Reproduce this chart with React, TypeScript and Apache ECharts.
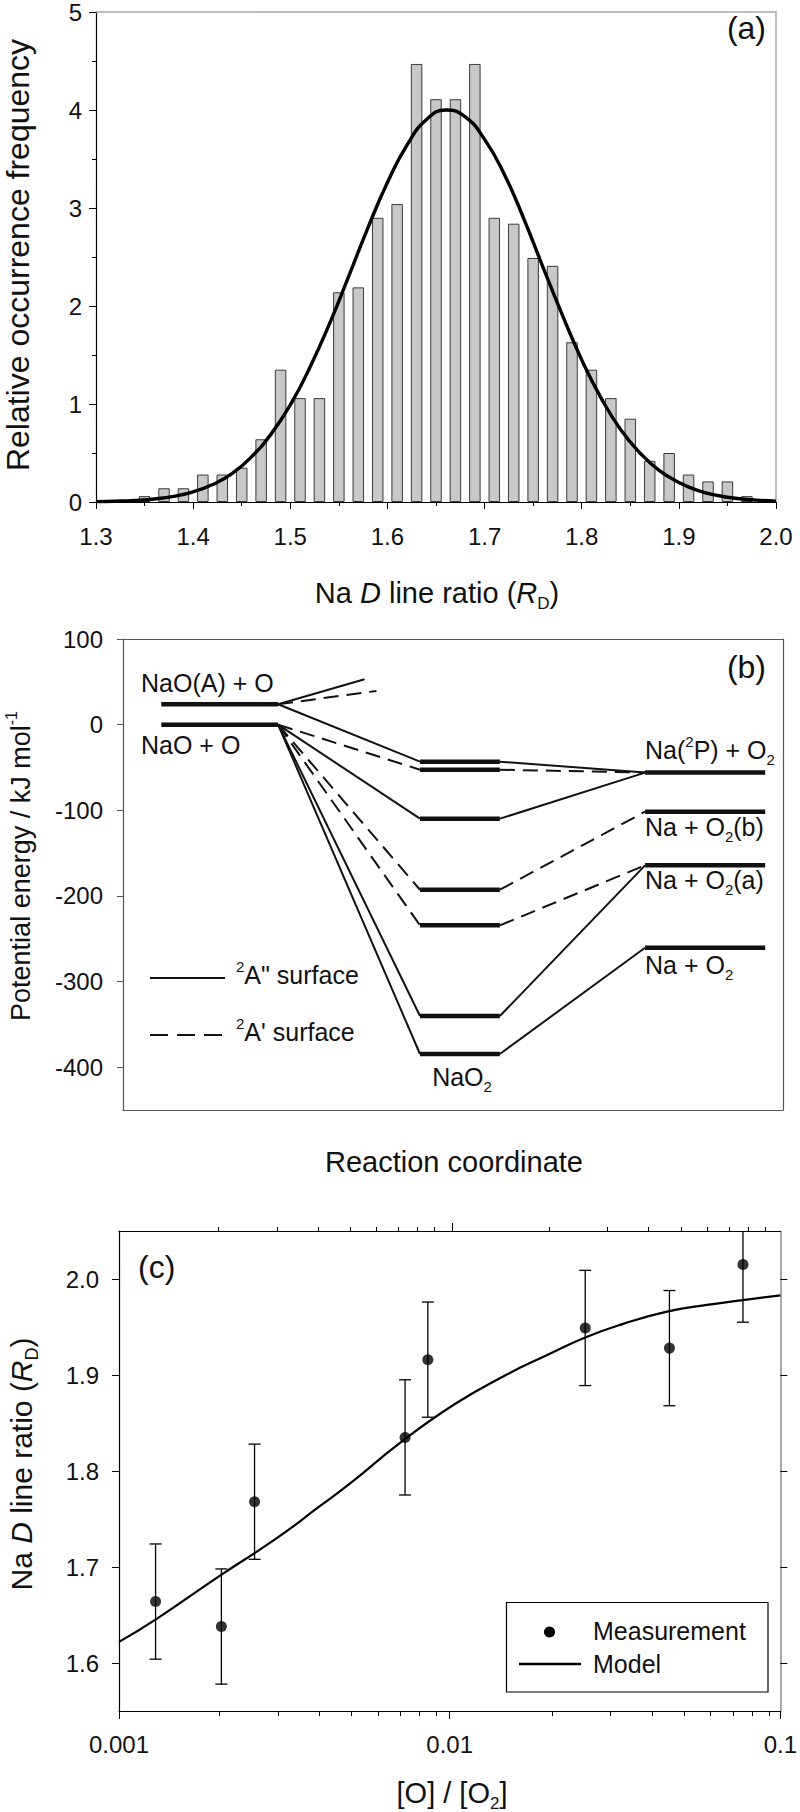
import { useEffect, useRef } from 'react';
import * as echarts from 'echarts';

// ---------- (a) histogram of the Na D line ratio ----------
const binCenters = [
  1.35, 1.37, 1.39, 1.41, 1.43, 1.45, 1.47, 1.49, 1.51, 1.53, 1.55, 1.57, 1.59, 1.61, 1.63, 1.65,
  1.67, 1.69, 1.71, 1.73, 1.75, 1.77, 1.79, 1.81, 1.83, 1.85, 1.87, 1.89, 1.91, 1.93, 1.95, 1.97,
];
const binFreq = [
  0.06, 0.14, 0.14, 0.28, 0.28, 0.35, 0.64, 1.35, 1.06, 1.06, 2.14, 2.19, 2.9, 3.04, 4.47, 4.11,
  4.11, 4.47, 2.9, 2.84, 2.49, 2.41, 1.63, 1.35, 1.06, 0.85, 0.42, 0.5, 0.28, 0.21, 0.21, 0.06,
];
// fitted normal curve
const fitX = [
  1.3, 1.32, 1.34, 1.36, 1.38, 1.4, 1.42, 1.44, 1.46, 1.48, 1.5, 1.52, 1.54, 1.56, 1.58, 1.6, 1.62, 1.64,
  1.66, 1.68, 1.7, 1.72, 1.74, 1.76, 1.78, 1.8, 1.82, 1.84, 1.86, 1.88, 1.9, 1.92, 1.94, 1.96, 1.98, 2.0,
];
const fitY = [
  0.004, 0.008, 0.016, 0.031, 0.058, 0.104, 0.178, 0.29, 0.46, 0.69, 0.99, 1.37, 1.81, 2.3, 2.8, 3.26, 3.64, 3.9,
  4.0, 3.93, 3.7, 3.35, 2.9, 2.4, 1.91, 1.45, 1.06, 0.74, 0.5, 0.32, 0.2, 0.116, 0.066, 0.036, 0.019, 0.009,
];

// ---------- (b) potential energy diagram (kJ/mol) ----------
// reaction coordinate spans of the three stages (0..100 scale)
const reactantSpan = [5.8, 23.5];
const complexSpan = [45, 57.1];
const productSpan = [79.1, 97.3];
const reactantLevels = [23.8, 0]; // NaO(A) + O, NaO + O
const complexLevels = [-43.2, -52.6, -109.8, -192.8, -234.4, -340.3, -384.6];
const productLevels = [-56, -101.6, -164.3, -260.5]; // Na(2P)+O2, Na+O2(b), Na+O2(a), Na+O2
// [reactant level, complex level, product level, dashed?]
const pathways: [number, number, number, boolean][] = [
  [23.8, -43.2, -56, false],
  [0, -52.6, -56, true],
  [0, -109.8, -56, false],
  [0, -192.8, -101.6, true],
  [0, -234.4, -164.3, true],
  [0, -340.3, -164.3, false],
  [0, -384.6, -260.5, false],
];
// short branches leaving NaO(A) + O: [end coordinate, end energy, dashed?]
const branches: [number, number, boolean][] = [
  [36.6, 53, false],
  [38.4, 39.4, true],
];
const energyTicks = [100, 0, -100, -200, -300, -400];

// ---------- (c) R_D versus [O]/[O2] ----------
const ratioO = [0.00129, 0.00204, 0.00257, 0.00733, 0.00859, 0.0257, 0.0462, 0.0771];
const measuredRD = [1.664, 1.638, 1.768, 1.835, 1.916, 1.949, 1.928, 2.015];
const errRD = [0.06, 0.06, 0.06, 0.06, 0.06, 0.06, 0.06, 0.06];
const modelX = [
  0.001, 0.0013, 0.002, 0.003, 0.004, 0.005, 0.007, 0.0104, 0.0148, 0.0195, 0.0257, 0.0333, 0.0454, 0.06, 0.077, 0.1,
];
const modelY = [
  1.622, 1.646, 1.69, 1.73, 1.762, 1.787, 1.828, 1.87, 1.9, 1.92, 1.939, 1.953, 1.966, 1.973, 1.978, 1.983,
];
const rdTicks = [1.6, 1.7, 1.8, 1.9, 2.0];
const decadeTicks = [0.001, 0.01, 0.1];
const minorLogTicks = [
  0.002, 0.003, 0.004, 0.005, 0.006, 0.007, 0.008, 0.009,
  0.02, 0.03, 0.04, 0.05, 0.06, 0.07, 0.08, 0.09,
];

const FONT = '"Liberation Sans", Arial, Helvetica, sans-serif';
const INK = '#111';
const AXIS = '#000';
const PALE = '#a8a8a8';
const BOX = '#555';

const makeRich = (size: number) => {
  const small = Math.round(size * 0.6);
  return {
    i: { fontStyle: 'italic', fontSize: size, fontFamily: FONT, fill: INK, lineHeight: Math.round(size * 1.3) },
    sup: { fontSize: small, fontFamily: FONT, fill: INK, lineHeight: small, verticalAlign: 'top' },
    sub: { fontSize: small, fontFamily: FONT, fill: INK, lineHeight: small, verticalAlign: 'bottom' },
  };
};

const label = (
  x: number,
  y: number,
  text: string,
  size: number,
  align: 'left' | 'center' | 'right' = 'left',
  rotation = 0,
) => ({
  type: 'text',
  x,
  y,
  rotation,
  silent: true,
  z: 10,
  style: {
    text,
    fontSize: size,
    fontFamily: FONT,
    fill: INK,
    align,
    verticalAlign: 'middle',
    lineHeight: Math.round(size * 1.3),
    rich: makeRich(size),
  },
});

const tickLabel = { fontSize: 24, fontFamily: FONT, color: INK };
const plainLine = (color: string, width = 1.2) => ({ show: true, onZero: false, lineStyle: { color, width } });

const App = () => {
  const chartRef = useRef<HTMLDivElement>(null);

  useEffect(() => {
    if (!chartRef.current) return;
    const chart = echarts.init(chartRef.current, undefined, { renderer: 'svg' });

    const energySeries: any[] = [];
    const energyLine = (pts: number[][], dashed: boolean, width: number) =>
      energySeries.push({
        type: 'line',
        xAxisIndex: 2,
        yAxisIndex: 2,
        data: pts,
        symbol: 'none',
        silent: true,
        lineStyle: { color: INK, width, type: dashed ? [15, 8] : 'solid', cap: 'butt' },
      });

    reactantLevels.forEach((e) => energyLine([[reactantSpan[0], e], [reactantSpan[1], e]], false, 4.5));
    complexLevels.forEach((e) => energyLine([[complexSpan[0], e], [complexSpan[1], e]], false, 4.5));
    productLevels.forEach((e) => energyLine([[productSpan[0], e], [productSpan[1], e]], false, 4.5));
    pathways.forEach(([r, c, p, dashed]) => {
      energyLine([[reactantSpan[1], r], [complexSpan[0], c]], dashed, 2);
      energyLine([[complexSpan[1], c], [productSpan[0], p]], dashed, 2);
    });
    branches.forEach(([u, e, dashed]) =>
      energyLine([[reactantSpan[1], reactantLevels[0]], [u, e]], dashed, 2),
    );

    const option: any = {
      animation: false,
      grid: [
        { left: 96, top: 11.5, width: 680, height: 490.5 },
        { left: 123, top: 639, width: 660, height: 471 },
        { left: 119, top: 1231, width: 665.5, height: 480 },
        { left: 119, top: 1231, width: 665.5, height: 480 },
      ],
      xAxis: [
        {
          gridIndex: 0,
          type: 'value',
          min: 1.3,
          max: 2.0,
          interval: 0.1,
          position: 'bottom',
          axisLine: plainLine(AXIS),
          axisTick: { length: 7, lineStyle: { color: AXIS } },
          minorTick: { show: true, splitNumber: 2, length: 4, lineStyle: { color: AXIS } },
          axisLabel: { ...tickLabel, margin: 22, formatter: (v: number) => v.toFixed(1) },
          splitLine: { show: false },
        },
        {
          gridIndex: 0,
          type: 'value',
          min: 1.3,
          max: 2.0,
          position: 'top',
          axisLine: plainLine(PALE, 1.5),
          axisTick: { show: false },
          axisLabel: { show: false },
          splitLine: { show: false },
        },
        {
          gridIndex: 1,
          type: 'value',
          min: 0,
          max: 100,
          position: 'bottom',
          axisLine: plainLine(BOX),
          axisTick: { show: false },
          axisLabel: { show: false },
          splitLine: { show: false },
        },
        {
          gridIndex: 1,
          type: 'value',
          min: 0,
          max: 100,
          position: 'top',
          axisLine: plainLine(BOX),
          axisTick: { show: false },
          axisLabel: { show: false },
          splitLine: { show: false },
        },
        {
          gridIndex: 2,
          type: 'log',
          logBase: 10,
          min: 0.001,
          max: 0.1,
          position: 'bottom',
          axisLine: plainLine(AXIS),
          axisTick: { length: 8, customValues: decadeTicks, lineStyle: { color: AXIS } },
          axisLabel: {
            ...tickLabel,
            margin: 21,
            customValues: decadeTicks,
            formatter: (v: number) => String(+v.toPrecision(3)),
          },
          splitLine: { show: false },
        },
        {
          gridIndex: 2,
          type: 'log',
          logBase: 10,
          min: 0.001,
          max: 0.1,
          position: 'top',
          axisLine: plainLine(AXIS),
          axisTick: { length: 4, customValues: minorLogTicks, lineStyle: { color: AXIS } },
          axisLabel: { show: false },
          splitLine: { show: false },
        },
        {
          gridIndex: 3,
          type: 'log',
          logBase: 10,
          min: 0.001,
          max: 0.1,
          position: 'bottom',
          axisLine: { show: false },
          axisTick: { length: 5, customValues: minorLogTicks, lineStyle: { color: AXIS } },
          axisLabel: { show: false },
          splitLine: { show: false },
        },
        {
          gridIndex: 3,
          type: 'log',
          logBase: 10,
          min: 0.001,
          max: 0.1,
          position: 'top',
          axisLine: { show: false },
          axisTick: { length: 8, customValues: [0.01], lineStyle: { color: AXIS } },
          axisLabel: { show: false },
          splitLine: { show: false },
        },
      ],
      yAxis: [
        {
          gridIndex: 0,
          type: 'value',
          min: 0,
          max: 5,
          interval: 1,
          position: 'left',
          axisLine: plainLine(AXIS),
          axisTick: { show: true, length: 7, lineStyle: { color: AXIS } },
          minorTick: { show: true, splitNumber: 2, length: 4, lineStyle: { color: AXIS } },
          axisLabel: { ...tickLabel, margin: 14 },
          splitLine: { show: false },
        },
        {
          gridIndex: 0,
          type: 'value',
          min: 0,
          max: 5,
          position: 'right',
          axisLine: plainLine(PALE, 1.5),
          axisTick: { show: false },
          axisLabel: { show: false },
          splitLine: { show: false },
        },
        {
          gridIndex: 1,
          type: 'value',
          min: -450,
          max: 100,
          position: 'left',
          axisLine: plainLine(BOX),
          axisTick: { show: true, length: 6, customValues: energyTicks, lineStyle: { color: BOX } },
          axisLabel: { ...tickLabel, margin: 20, customValues: energyTicks },
          splitLine: { show: false },
        },
        {
          gridIndex: 1,
          type: 'value',
          min: -450,
          max: 100,
          position: 'right',
          axisLine: plainLine(BOX),
          axisTick: { show: false },
          axisLabel: { show: false },
          splitLine: { show: false },
        },
        {
          gridIndex: 2,
          type: 'value',
          min: 1.55,
          max: 2.05,
          position: 'left',
          axisLine: plainLine(AXIS),
          axisTick: { show: true, length: 7, customValues: rdTicks, lineStyle: { color: AXIS } },
          axisLabel: {
            ...tickLabel,
            margin: 20,
            customValues: rdTicks,
            formatter: (v: number) => v.toFixed(1),
          },
          splitLine: { show: false },
        },
        {
          gridIndex: 2,
          type: 'value',
          min: 1.55,
          max: 2.05,
          position: 'right',
          axisLine: plainLine('#8c8c8c', 1.5),
          axisTick: { show: true, length: 7, customValues: rdTicks, lineStyle: { color: AXIS } },
          axisLabel: { show: false },
          splitLine: { show: false },
        },
        {
          gridIndex: 3,
          type: 'value',
          min: 1.55,
          max: 2.05,
          show: false,
        },
      ],
      series: [
        {
          type: 'bar',
          xAxisIndex: 0,
          yAxisIndex: 0,
          data: binCenters.map((x, i) => [x, binFreq[i]]),
          barWidth: 11.5,
          silent: true,
          itemStyle: { color: '#c8c8c8', borderColor: '#3a3a3a', borderWidth: 1 },
        },
        {
          type: 'line',
          xAxisIndex: 0,
          yAxisIndex: 0,
          data: fitX.map((x, i) => [x, fitY[i]]),
          smooth: true,
          symbol: 'none',
          silent: true,
          z: 5,
          lineStyle: { color: '#000', width: 3.4 },
        },
        ...energySeries,
        {
          type: 'line',
          xAxisIndex: 4,
          yAxisIndex: 4,
          data: modelX.map((x, i) => [x, modelY[i]]),
          smooth: true,
          symbol: 'none',
          silent: true,
          lineStyle: { color: '#000', width: 2.2 },
        },
        {
          type: 'custom',
          xAxisIndex: 4,
          yAxisIndex: 4,
          clip: true,
          silent: true,
          data: ratioO.map((x, i) => [x, measuredRD[i] - errRD[i], measuredRD[i] + errRD[i]]),
          renderItem: (_params: any, api: any) => {
            const lo = api.coord([api.value(0), api.value(1)]);
            const hi = api.coord([api.value(0), api.value(2)]);
            const cap = 6;
            const st = { stroke: '#000', lineWidth: 1.3 };
            return {
              type: 'group',
              children: [
                { type: 'line', shape: { x1: lo[0], y1: lo[1], x2: hi[0], y2: hi[1] }, style: st },
                { type: 'line', shape: { x1: lo[0] - cap, y1: lo[1], x2: lo[0] + cap, y2: lo[1] }, style: st },
                { type: 'line', shape: { x1: hi[0] - cap, y1: hi[1], x2: hi[0] + cap, y2: hi[1] }, style: st },
              ],
            };
          },
        },
        {
          type: 'scatter',
          xAxisIndex: 4,
          yAxisIndex: 4,
          data: ratioO.map((x, i) => [x, measuredRD[i]]),
          symbol: 'circle',
          symbolSize: 11,
          silent: true,
          z: 6,
          itemStyle: { color: '#000' },
        },
      ],
      graphic: [
        // panel (a)
        label(766, 28, '(a)', 32, 'right'),
        label(437, 593, 'Na {i|D} line ratio ({i|R}{sub|D})', 29, 'center'),
        label(18, 255, 'Relative occurrence frequency', 32, 'center', Math.PI / 2),
        // panel (b)
        label(766, 667, '(b)', 32, 'right'),
        label(21, 866, 'Potential energy / kJ mol{sup|-1}', 27, 'center', Math.PI / 2),
        label(454, 1162, 'Reaction coordinate', 29, 'center'),
        label(141, 683, 'NaO(A) + O', 25),
        label(141, 745, 'NaO + O', 25),
        label(645, 750, 'Na({sup|2}P) + O{sub|2}', 25),
        label(645, 827, 'Na + O{sub|2}(b)', 25),
        label(645, 880, 'Na + O{sub|2}(a)', 25),
        label(645, 965, 'Na + O{sub|2}', 25),
        label(462, 1077, 'NaO{sub|2}', 25, 'center'),
        {
          type: 'line',
          silent: true,
          shape: { x1: 150, y1: 978, x2: 225, y2: 978 },
          style: { stroke: INK, lineWidth: 2.2 },
        },
        {
          type: 'line',
          silent: true,
          shape: { x1: 150, y1: 1035, x2: 225, y2: 1035 },
          style: { stroke: INK, lineWidth: 2.2, lineDash: [18, 9] },
        },
        label(236, 975, '{sup|2}A" surface', 25),
        label(236, 1032, "{sup|2}A' surface", 25),
        // panel (c)
        label(138, 1267, '(c)', 32),
        label(21, 1464, 'Na {i|D} line ratio ({i|R}{sub|D})', 30, 'center', Math.PI / 2),
        label(452, 1793, '[O] / [O{sub|2}]', 29, 'center'),
        {
          type: 'rect',
          silent: true,
          z: 8,
          shape: { x: 506.5, y: 1602.5, width: 261.5, height: 89.5 },
          style: { fill: '#fff', stroke: '#000', lineWidth: 1.2 },
        },
        {
          type: 'circle',
          silent: true,
          z: 9,
          shape: { cx: 549.5, cy: 1632, r: 5.5 },
          style: { fill: '#000' },
        },
        {
          type: 'line',
          silent: true,
          z: 9,
          shape: { x1: 519, y1: 1664, x2: 581, y2: 1664 },
          style: { stroke: '#000', lineWidth: 2.4 },
        },
        label(593, 1631, 'Measurement', 25),
        label(593, 1664, 'Model', 25),
      ],
    };

    chart.setOption(option);

    const handleResize = () => chart.resize();
    window.addEventListener('resize', handleResize);
    return () => {
      window.removeEventListener('resize', handleResize);
      chart.dispose();
    };
  }, []);

  return (
    <div
      ref={chartRef}
      style={{ position: 'absolute', left: 0, top: 0, width: 800, height: 1812, background: '#fff' }}
    />
  );
};

export default App;
